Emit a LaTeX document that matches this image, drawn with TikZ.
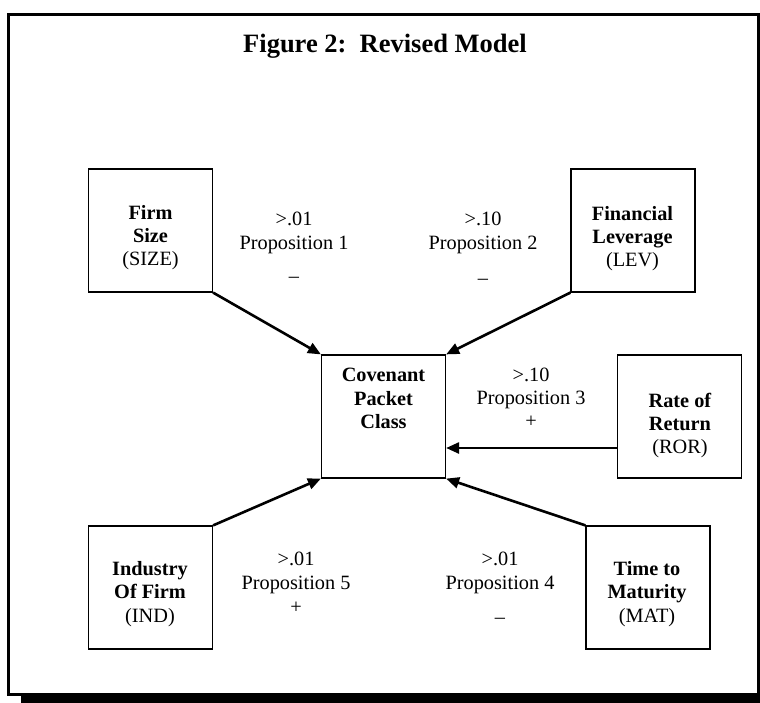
\documentclass[tikz,border=0pt]{standalone}
\usepackage{fontspec}
\setmainfont{Liberation Serif}
\usetikzlibrary{arrows.meta}
\begin{document}
\begin{tikzpicture}[x=1pt,y=-1pt,
  box/.style={draw, line width=1.2pt, minimum width=124pt, minimum height=123pt, inner sep=0pt},
  txt/.style={align=center, font=\fontsize{20.3}{23.3}\selectfont, inner sep=0pt},
  ttl/.style={font=\fontsize{26.5}{30}\selectfont\bfseries, inner sep=0pt},
  arr/.style={line width=2.6pt, -{Triangle[length=13pt,width=11pt]}}
]
\useasboundingbox (0,0) rectangle (760,703);
% frame with shadow
\draw[line width=3pt] (8.5,14.5) rectangle (758.5,694.5);
\fill (21,696) rectangle (760,703);
% title
\node[ttl] (title) at (385,46) {Figure 2:\ \ Revised Model};
% boxes
\node[box] (size) at (150.5,230.5) {};
\node[box] (lev)  at (633,230.5) {};
\node[box] (cov)  at (383.5,416.5) {};
\node[box] (ror)  at (679.5,416.5) {};
\node[box] (ind)  at (150.5,587.5) {};
\node[box] (mat)  at (648,587.5) {};
% box texts
\node[txt] (tsize) at (150.5,237.5) {\textbf{Firm}\\\textbf{Size}\\(SIZE)};
\node[txt] (tlev)  at (632.5,238.5) {\textbf{Financial}\\\textbf{Leverage}\\(LEV)};
\node[txt] (tcov)  at (383.5,398.5) {\textbf{Covenant}\\\textbf{Packet}\\\textbf{Class}};
\node[txt] (tror)  at (680,425.5) {\textbf{Rate of}\\\textbf{Return}\\(ROR)};
\node[txt] (tind)  at (150,594) {\textbf{Industry}\\\textbf{Of Firm}\\(IND)};
\node[txt] (tmat)  at (647,594) {\textbf{Time to}\\\textbf{Maturity}\\(MAT)};
% proposition labels
\node[txt] (p1)  at (294,233) {>.01\\Proposition 1};
\node[txt] (p1s) at (294,280) {–};
\node[txt] (p2)  at (483,233) {>.10\\Proposition 2};
\node[txt] (p2s) at (483,282) {–};
\node[txt] (p3)  at (531,388.5) {>.10\\Proposition 3};
\node[txt] (p3s) at (531,422) {+};
\node[txt] (p5)  at (296,573) {>.01\\Proposition 5};
\node[txt] (p5s) at (296,608) {+};
\node[txt] (p4)  at (500,573) {>.01\\Proposition 4};
\node[txt] (p4s) at (500,621) {–};
% connectors
\draw[arr] (size.south east) -- (cov.north west);
\draw[arr] (lev.south west) -- (cov.north east);
\draw[arr] ([yshift=-31.5pt]ror.west) -- ([yshift=-31.5pt]cov.east);
\draw[arr] (ind.north east) -- (cov.south west);
\draw[arr] (mat.north west) -- (cov.south east);
\end{tikzpicture}
\end{document}
